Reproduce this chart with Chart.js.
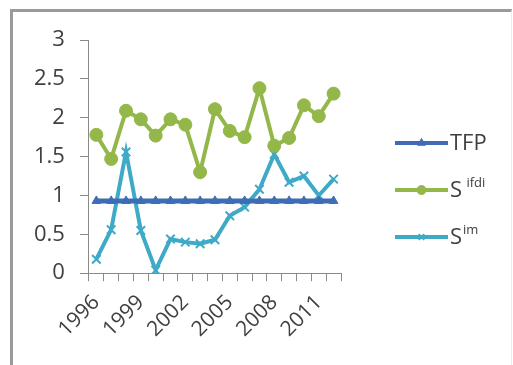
<!DOCTYPE html>
<html>
<head>
<meta charset="utf-8">
<script src="https://cdn.jsdelivr.net/npm/chart.js@4/dist/chart.umd.min.js"></script>
<style>
  html, body { margin: 0; padding: 0; background: #fff; }
  #wrap { position: relative; width: 513px; height: 365px; overflow: hidden; }
  #frame { position: absolute; left: 10px; top: 9px; right: 1px; bottom: -5px;
           border-left: 3px solid #9a9a9a; border-top: 3px solid #9a9a9a;
           border-right: 1px solid #ececec; }
  canvas { position: absolute; left: 0; top: 0; }
</style>
</head>
<body>
<div id="wrap">
  <div id="frame"></div>
  <canvas id="c" width="513" height="365"></canvas>
</div>
<script>
// Years on the category axis (every third one is labelled)
const years = ['1996','1997','1998','1999','2000','2001','2002','2003','2004',
               '2005','2006','2007','2008','2009','2010','2011','2012'];
const yTicks = [0, 0.5, 1, 1.5, 2, 2.5, 3];

// Series values
const tfp   = [0.93,0.93,0.93,0.93,0.93,0.93,0.93,0.93,0.93,0.93,0.93,0.93,0.93,0.93,0.93,0.93,0.93];
const sIfdi = [1.78,1.47,2.09,1.98,1.77,1.98,1.91,1.30,2.11,1.83,1.75,2.38,1.64,1.74,2.16,2.02,2.31];
const sIm   = [0.18,0.56,1.56,0.55,0.04,0.44,0.40,0.38,0.43,0.74,0.85,1.08,1.53,1.17,1.25,1.00,1.21];

// Legend entries: base text plus superscript part
const legendItems = [
  { base: 'TFP', sup: '',      color: '#3e6db5', style: 'triangle', r: 4.5 },
  { base: 'S',   sup: ' ifdi', color: '#94b74a', style: 'circle',   r: 4.5 },
  { base: 'S',   sup: 'im',    color: '#3eaac8', style: 'crossRot', r: 4 }
];

const FONT = "'Open Sans', 'DejaVu Sans', sans-serif";
const axisGray = '#8a8a8a';

// Draws the legend at the right, Excel style: line with marker, then label
const sideLegend = {
  id: 'sideLegend',
  afterDraw(chart) {
    const ctx = chart.ctx;
    const x0 = 395, x1 = 448, rowY = [143, 190, 237];
    legendItems.forEach((it, i) => {
      const y = rowY[i];
      const ds = chart.data.datasets[i];
      ctx.save();
      ctx.strokeStyle = it.color;
      ctx.lineWidth = 4;
      ctx.beginPath();
      ctx.moveTo(x0, y);
      ctx.lineTo(x1, y);
      ctx.stroke();
      ctx.fillStyle = it.color;
      ctx.lineWidth = ds.pointBorderWidth || 1;
      Chart.helpers.drawPoint(ctx, {
        pointStyle: it.style, radius: it.r, rotation: 0,
        borderWidth: ds.pointBorderWidth || 1
      }, (x0 + x1) / 2, y);
      ctx.fillStyle = '#404040';
      ctx.textBaseline = 'middle';
      ctx.textAlign = 'left';
      ctx.font = '22px ' + FONT;
      ctx.fillText(it.base, x1 + 2, y + 1);
      if (it.sup) {
        const w = ctx.measureText(it.base).width;
        ctx.font = '13px ' + FONT;
        ctx.fillText(it.sup, x1 + 3 + w, y - 7);
      }
      ctx.restore();
    });
  }
};

new Chart(document.getElementById('c'), {
  type: 'line',
  data: {
    labels: years,
    datasets: [
      { label: 'TFP', data: tfp, borderColor: '#3e6db5', backgroundColor: '#3e6db5',
        borderWidth: 5, pointStyle: 'triangle', pointRadius: 5, pointBorderWidth: 1 },
      { label: 'S ifdi', data: sIfdi, borderColor: '#94b74a', backgroundColor: '#94b74a',
        borderWidth: 4, pointStyle: 'circle', pointRadius: 6.5, pointBorderWidth: 1 },
      { label: 'S im', data: sIm, borderColor: '#3eaac8', backgroundColor: '#3eaac8',
        borderWidth: 4, pointStyle: 'crossRot', pointRadius: 6, pointBorderWidth: 2 }
    ]
  },
  options: {
    responsive: false,
    animation: false,
    events: [],
    layout: { padding: { left: 19, top: 40, right: 172, bottom: 14 } },
    plugins: { legend: { display: false }, tooltip: { enabled: false } },
    elements: { line: { tension: 0 } },
    scales: {
      x: {
        offset: true,
        grid: { offset: true, drawOnChartArea: false, tickLength: 8, color: axisGray },
        border: { color: axisGray, width: 1 },
        ticks: {
          autoSkip: false, maxRotation: 45, minRotation: 45, padding: 9,
          color: '#404040', font: { family: FONT, size: 21 },
          callback: (v, i) => (i % 3 === 0 ? years[i] : '')
        }
      },
      y: {
        min: 0, max: 3,
        afterBuildTicks: (scale) => { scale.ticks = yTicks.map(v => ({ value: v })); },
        grid: { drawOnChartArea: false, tickLength: 9, color: axisGray },
        border: { color: axisGray, width: 1 },
        ticks: { padding: 15, color: '#404040', font: { family: FONT, size: 22 },
                 callback: (v) => String(v) }
      }
    }
  },
  plugins: [sideLegend]
});
</script>
</body>
</html>
